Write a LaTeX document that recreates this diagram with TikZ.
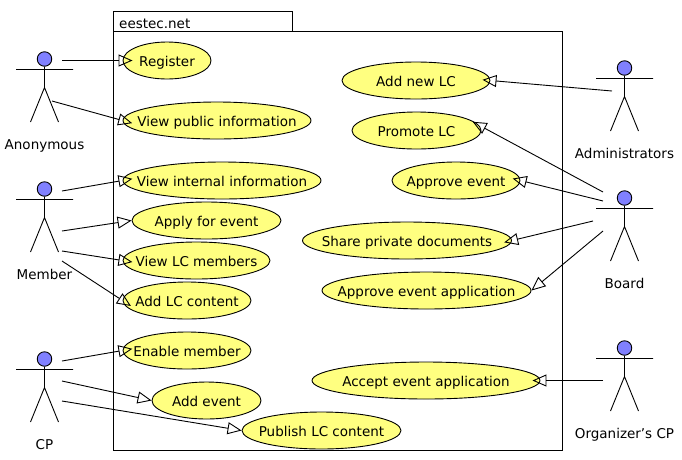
\documentclass[tikz,border=0pt]{standalone}
\usepackage{fontspec}
\setmainfont{DejaVu Sans}
\usetikzlibrary{arrows.meta,shapes.geometric}
\definecolor{ucfill}{RGB}{255,255,128}
\definecolor{headfill}{RGB}{128,128,255}
\tikzset{
  usecase/.style={draw, ellipse, inner sep=0pt, line width=0.9pt, minimum height=37pt, fill=ucfill},
  head/.style={draw, circle, inner sep=0pt, minimum size=14.5pt, line width=0.9pt, fill=headfill},
  actorlabel/.style={inner sep=0pt, anchor=base},
  assoc/.style={-{Triangle[open, length=14pt, width=12pt]}, line width=0.9pt}
}
\newcommand{\uctext}[1]{\raisebox{-5.5pt}[0pt][0pt]{\makebox[0pt]{#1}}}
% one actor: name, x, y of the head, label, label baseline
\newcommand{\actor}[5]{
  \node[head] (#1) at (#2,#3) {};
  \coordinate (#1arml) at ([shift={(-28.5,10.5)}]#1.center);
  \coordinate (#1armr) at ([shift={(28.5,10.5)}]#1.center);
  \coordinate (#1hip) at ([shift={(0,28.5)}]#1.center);
  \coordinate (#1legl) at ([shift={(-14,63)}]#1.center);
  \coordinate (#1legr) at ([shift={(14,63)}]#1.center);
  \draw[line width=0.9pt] (#1) -- (#1hip) -- (#1legl) (#1hip) -- (#1legr) (#1arml) -- (#1armr);
  \node[actorlabel] (#1label) at (#2,#5) {#4};
}
\begin{document}
\begin{tikzpicture}[x=1pt,y=-1pt,font=\fontsize{13.5}{16}\selectfont]
\useasboundingbox (0,0) rectangle (682,459);

% package
\node[draw, line width=1pt, minimum width=449pt, minimum height=419pt, inner sep=0pt] (pkg) at (337.5,240.5) {};
\node[draw, line width=1pt, minimum width=179pt, minimum height=20pt, inner sep=0pt] (tab) at (202.5,21) {};
\node[inner sep=0pt, anchor=base west] (tabtext) at (119,28) {eestec.net};

% use cases
\node[usecase, minimum width=88pt] (register) at (167,60.5) {\uctext{Register}};
\node[usecase, minimum width=188pt] (viewpublic) at (217,120.5) {\uctext{View public information}};
\node[usecase, minimum width=198pt] (viewinternal) at (222,180.5) {\uctext{View internal information}};
\node[usecase, minimum width=149pt] (apply) at (206.5,220.5) {\uctext{Apply for event}};
\node[usecase, minimum width=147pt] (viewmembers) at (196.5,260.5) {\uctext{View LC members}};
\node[usecase, minimum width=128pt] (addcontent) at (187,300.5) {\uctext{Add LC content}};
\node[usecase, minimum width=128pt] (enable) at (187,350.5) {\uctext{Enable member}};
\node[usecase, minimum width=109pt] (addevent) at (206.5,400.5) {\uctext{Add event}};
\node[usecase, minimum width=159pt] (publish) at (321.5,430.5) {\uctext{Publish LC content}};

\node[usecase, minimum width=148pt] (addlc) at (416,80.5) {\uctext{Add new LC}};
\node[usecase, minimum width=129pt] (promote) at (416.5,130.5) {\uctext{Promote LC}};
\node[usecase, minimum width=128pt] (approve) at (456,180.5) {\uctext{Approve event}};
\node[usecase, minimum width=209pt] (share) at (407,240.5) {\uctext{Share private documents}};
\node[usecase, minimum width=209pt] (approveapp) at (426.5,290.5) {\uctext{Approve event application}};
\node[usecase, minimum width=228pt] (accept) at (426,380.5) {\uctext{Accept event application}};

% actors
\actor{anon}{44.5}{59}{Anonymous}{149}
\actor{member}{44.5}{189}{Member}{279}
\actor{cp}{44.5}{359}{CP}{449}
\actor{admin}{624.5}{68}{Administrators}{158}
\actor{board}{624.5}{198}{Board}{288}
\actor{orgcp}{624.5}{348}{Organizer's CP}{438}

% free ends of the connectors
\coordinate (anonA) at (62,60.5);
\coordinate (anonB) at (52,101);
\coordinate (memberA) at (62,191);
\coordinate (memberB) at (62,231);
\coordinate (memberC) at (62,251);
\coordinate (memberD) at (62,261);
\coordinate (cpA) at (62,361);
\coordinate (cpB) at (62,381);
\coordinate (cpC) at (62,401);
\coordinate (adminA) at (612,91);
\coordinate (boardA) at (603,192);
\coordinate (boardB) at (603,201);
\coordinate (boardC) at (593,221);
\coordinate (boardD) at (603,231);
\coordinate (orgcpA) at (603,380.5);

\draw[assoc, shorten >=-10pt] (anonA) -- (register.west);
\draw[assoc, shorten >=-10pt] (anonB) -- (viewpublic.west);
\draw[assoc, shorten >=-10pt] (memberA) -- (viewinternal.west);
\draw[assoc] (memberB) -- (apply.west);
\draw[assoc, shorten >=-10pt] (memberC) -- (viewmembers.west);
\draw[assoc, shorten >=-10pt] (memberD) -- (addcontent.west);
\draw[assoc, shorten >=-10pt] (cpA) -- (enable.west);
\draw[assoc] (cpB) -- (addevent.west);
\draw[assoc] (cpC) -- (publish.west);
\draw[assoc, shorten >=-8pt] (adminA) -- (addlc.east);
\draw[assoc, shorten >=-10pt] (boardA) -- ([yshift=4pt]promote.east);
\draw[assoc, shorten >=-8pt] (boardB) -- (approve.east);
\draw[assoc, shorten >=-8pt] (boardC) -- (share.east);
\draw[assoc] (boardD) -- (approveapp.east);
\draw[assoc, shorten >=-8pt] (orgcpA) -- (accept.east);
\end{tikzpicture}
\end{document}
